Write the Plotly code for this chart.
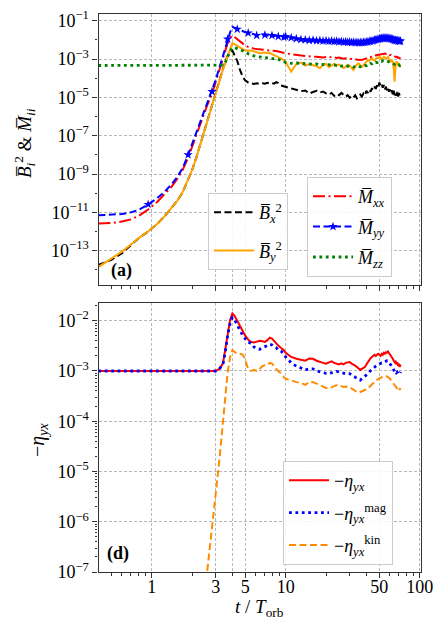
import plotly.graph_objects as go

# ---------------- data ----------------
T = [0.4, 0.5, 0.6, 0.7, 0.8,
     0.94, 1.1, 1.25, 1.4, 1.55,
     1.7, 1.87, 2.0, 2.15, 2.3,
     2.45, 2.6, 2.82, 3.0, 3.2,
     3.4, 3.55, 3.69, 3.85, 4.0,
     4.15, 4.35, 4.55, 4.8, 5.0,
     5.25, 5.5, 5.8, 6.07, 6.4,
     6.7, 7.0, 7.3, 7.6, 7.9,
     8.2, 8.5, 8.8, 9.2, 9.7,
     10, 11, 12, 13, 14,
     15, 16, 17, 18, 19,
     20, 21, 22, 23, 24,
     25, 26, 27, 28, 29,
     30, 31, 32, 33, 34,
     35, 36, 37, 38, 39,
     40, 41, 42, 43, 44,
     45, 46, 47, 48, 49,
     50, 51, 52, 53, 54,
     55, 56, 57, 58, 59,
     60, 61, 62, 63, 64,
     65, 66, 67, 68, 69,
     70, 71, 72]

Bx2 = [1.8e-14, 3.3e-14, 7.5e-14, 2.0e-13, 4.5e-13,
       1.0e-12, 2.5e-12, 6.3e-12, 1.6e-11, 4.0e-11,
       1.1e-10, 5.0e-10, 1.6e-9, 7.0e-9, 3.5e-8,
       1.6e-7, 6.0e-7, 4.0e-6, 1.6e-5, 7.5e-5,
       3.0e-4, 7.5e-4, 1.5e-3, 2.4e-3, 2.8e-3,
       1.6e-3, 8.0e-4, 2.8e-4, 1.1e-4, 7.5e-5,
       6.0e-5, 5.5e-5, 5.0e-5, 5.5e-5, 5.0e-5,
       5.5e-5, 5.2e-5, 5.8e-5, 5.3e-5, 5.6e-5,
       5.2e-5, 6.2e-5, 5.5e-5, 4.2e-5, 3.8e-5,
       3.5e-5, 3.0e-5, 2.6e-5, 2.1e-5, 2.3e-5,
       1.6e-5, 1.9e-5, 2.2e-5, 1.8e-5, 2.0e-5,
       1.6e-5, 1.4e-5, 1.7e-5, 1.2e-5, 1.5e-5,
       1.3e-5, 1.7e-5, 1.4e-5, 1.1e-5, 1.3e-5,
       9.5e-6, 1.2e-5, 1.0e-5, 1.3e-5, 9.0e-6,
       1.1e-5, 1.4e-5, 1.1e-5, 1.6e-5, 1.3e-5,
       2.2e-5, 1.7e-5, 2.6e-5, 2.0e-5, 3.0e-5,
       2.4e-5, 3.6e-5, 2.8e-5, 4.2e-5, 3.2e-5,
       6.0e-5, 4.0e-5, 5.0e-5, 3.2e-5, 4.4e-5,
       2.6e-5, 3.6e-5, 2.2e-5, 3.0e-5, 2.0e-5,
       2.6e-5, 1.6e-5, 2.4e-5, 1.4e-5, 2.2e-5,
       1.3e-5, 2.0e-5, 1.2e-5, 1.9e-5, 1.1e-5,
       1.7e-5, 1.2e-5, 1.5e-5]

By2 = [1.4e-14, 3.8e-14, 9.0e-14, 2.1e-13, 4.5e-13,
       1.0e-12, 2.5e-12, 6.3e-12, 1.6e-11, 4.0e-11,
       1.1e-10, 5.0e-10, 1.6e-9, 7.0e-9, 3.5e-8,
       1.5e-7, 5.5e-7, 3.8e-6, 1.5e-5, 7.0e-5,
       2.8e-4, 7.0e-4, 1.4e-3, 3.5e-3, 6.8e-3,
       6.0e-3, 4.8e-3, 3.8e-3, 3.2e-3, 2.9e-3,
       2.7e-3, 2.8e-3, 2.6e-3, 2.3e-3, 2.0e-3,
       2.1e-3, 2.2e-3, 2.0e-3, 2.1e-3, 1.8e-3,
       1.6e-3, 1.5e-3, 1.3e-3, 1.1e-3, 8.5e-4,
       7.0e-4, 2.2e-4, 5.5e-4, 6.5e-4, 4.5e-4,
       5.5e-4, 5.0e-4, 4.2e-4, 3.3e-4, 4.8e-4,
       5.5e-4, 3.8e-4, 4.5e-4, 5.5e-4, 4.8e-4,
       5.2e-4, 4.2e-4, 3.4e-4, 4.0e-4, 5.0e-4,
       4.6e-4, 3.5e-4, 2.7e-4, 3.8e-4, 5.2e-4,
       6.0e-4, 4.8e-4, 4.0e-4, 4.5e-4, 6.0e-4,
       7.5e-4, 9.0e-4, 8.0e-4, 1.0e-3, 1.1e-3,
       9.0e-4, 8.5e-4, 1.0e-3, 1.2e-3, 1.1e-3,
       1.3e-3, 1.2e-3, 1.0e-3, 1.1e-3, 1.3e-3,
       1.2e-3, 1.05e-3, 1.15e-3, 1.3e-3, 1.0e-3,
       9.0e-4, 7.5e-4, 8.5e-4, 7.0e-4, 3.0e-4,
       6.6e-5, 4.0e-4, 7.5e-4, 6.5e-4, 5.0e-4,
       5.5e-4, 4.0e-4, 4.5e-4]

Mxx = [2.6e-12, 2.8e-12, 3.3e-12, 4.3e-12, 6.5e-12,
       1.4e-11, 3.5e-11, 8.5e-11, 2.1e-10, 5.5e-10,
       1.6e-9, 7.0e-9, 2.6e-8, 1.1e-7, 4.0e-7,
       1.3e-6, 4.0e-6, 1.5e-5, 6.0e-5, 2.6e-4,
       1.1e-3, 3.2e-3, 7.0e-3, 1.3e-2, 1.7e-2,
       1.4e-2, 1.05e-2, 8.0e-3, 6.0e-3, 5.0e-3,
       4.3e-3, 3.8e-3, 3.5e-3, 3.3e-3, 3.1e-3,
       3.0e-3, 3.0e-3, 2.9e-3, 2.8e-3, 2.8e-3,
       2.7e-3, 2.6e-3, 2.5e-3, 2.3e-3, 2.1e-3,
       2.0e-3, 1.8e-3, 1.65e-3, 1.55e-3, 1.45e-3,
       1.35e-3, 1.3e-3, 1.32e-3, 1.25e-3, 1.2e-3,
       1.28e-3, 1.2e-3, 1.3e-3, 1.22e-3, 1.15e-3,
       1.2e-3, 1.1e-3, 1.05e-3, 1.1e-3, 1.0e-3,
       9.8e-4, 1.02e-3, 9.5e-4, 9.8e-4, 9.2e-4,
       9.0e-4, 9.3e-4, 9.0e-4, 9.6e-4, 1.0e-3,
       1.1e-3, 1.15e-3, 1.3e-3, 1.25e-3, 1.4e-3,
       1.35e-3, 1.5e-3, 1.55e-3, 1.65e-3, 1.6e-3,
       1.8e-3, 1.75e-3, 1.9e-3, 1.8e-3, 1.85e-3,
       1.95e-3, 1.85e-3, 1.9e-3, 1.7e-3, 1.8e-3,
       1.6e-3, 1.65e-3, 1.5e-3, 1.55e-3, 1.45e-3,
       1.35e-3, 1.4e-3, 1.25e-3, 1.3e-3, 1.15e-3,
       1.2e-3, 1.1e-3, 1.05e-3]

Myy = [7.0e-12, 7.4e-12, 8.2e-12, 1.0e-11, 1.35e-11,
       2.6e-11, 5.5e-11, 1.2e-10, 2.8e-10, 7.0e-10,
       2.0e-9, 1.0e-8, 3.5e-8, 1.5e-7, 5.5e-7,
       1.8e-6, 5.5e-6, 2.0e-5, 8.0e-5, 3.5e-4,
       1.5e-3, 4.5e-3, 1.1e-2, 2.5e-2, 4.8e-2,
       4.3e-2, 3.6e-2, 3.2e-2, 2.8e-2, 2.5e-2,
       2.3e-2, 2.2e-2, 2.0e-2, 1.7e-2, 1.8e-2,
       1.9e-2, 1.8e-2, 1.7e-2, 1.8e-2, 1.7e-2,
       1.6e-2, 1.7e-2, 1.5e-2, 1.6e-2, 1.4e-2,
       1.5e-2, 1.3e-2, 1.15e-2, 1.05e-2, 1.0e-2,
       9.5e-3, 9.8e-3, 9.0e-3, 9.3e-3, 8.8e-3,
       9.0e-3, 8.5e-3, 8.8e-3, 8.3e-3, 8.6e-3,
       8.0e-3, 8.3e-3, 7.7e-3, 8.0e-3, 7.5e-3,
       7.8e-3, 7.3e-3, 7.6e-3, 7.1e-3, 7.4e-3,
       7.0e-3, 7.3e-3, 7.1e-3, 7.5e-3, 7.3e-3,
       7.9e-3, 7.8e-3, 8.5e-3, 8.3e-3, 9.1e-3,
       8.9e-3, 9.7e-3, 1.0e-2, 1.08e-2, 1.05e-2,
       1.15e-2, 1.12e-2, 1.22e-2, 1.18e-2, 1.28e-2,
       1.22e-2, 1.3e-2, 1.2e-2, 1.25e-2, 1.15e-2,
       1.2e-2, 1.1e-2, 1.15e-2, 1.05e-2, 1.0e-2,
       9.4e-3, 9.8e-3, 9.0e-3, 9.4e-3, 8.6e-3,
       9.0e-3, 8.4e-3, 8.8e-3]

Mzz = [4.6e-4, 4.6e-4, 4.6e-4, 4.6e-4, 4.6e-4,
       4.6e-4, 4.6e-4, 4.6e-4, 4.6e-4, 4.6e-4,
       4.6e-4, 4.6e-4, 4.6e-4, 4.6e-4, 4.6e-4,
       4.6e-4, 4.6e-4, 4.6e-4, 4.6e-4, 4.6e-4,
       4.8e-4, 7.0e-4, 1.4e-3, 2.6e-3, 3.9e-3,
       3.9e-3, 3.5e-3, 3.1e-3, 2.7e-3, 2.4e-3,
       1.9e-3, 1.6e-3, 1.45e-3, 1.35e-3, 1.3e-3,
       1.3e-3, 1.25e-3, 1.2e-3, 1.15e-3, 1.1e-3,
       1.05e-3, 1.0e-3, 9.5e-4, 8.8e-4, 7.5e-4,
       6.5e-4, 6.0e-4, 6.2e-4, 6.0e-4, 5.5e-4,
       5.8e-4, 5.3e-4, 5.6e-4, 5.0e-4, 5.3e-4,
       4.8e-4, 5.1e-4, 4.6e-4, 4.9e-4, 4.5e-4,
       4.7e-4, 4.3e-4, 4.5e-4, 4.1e-4, 4.3e-4,
       4.0e-4, 4.2e-4, 3.8e-4, 4.0e-4, 3.8e-4,
       4.1e-4, 3.9e-4, 4.3e-4, 4.1e-4, 4.6e-4,
       4.5e-4, 5.2e-4, 5.0e-4, 5.8e-4, 5.6e-4,
       6.3e-4, 6.0e-4, 6.8e-4, 6.5e-4, 7.2e-4,
       7.0e-4, 7.8e-4, 7.5e-4, 8.2e-4, 8.0e-4,
       8.6e-4, 8.2e-4, 8.5e-4, 7.8e-4, 7.5e-4,
       7.0e-4, 6.8e-4, 6.2e-4, 6.0e-4, 5.6e-4,
       5.2e-4, 5.5e-4, 4.9e-4, 5.2e-4, 4.8e-4,
       5.0e-4, 4.6e-4, 4.8e-4]

eta_tot = [1.0e-3, 1.0e-3, 1.0e-3, 1.0e-3, 1.0e-3,
           1.0e-3, 1.0e-3, 1.0e-3, 1.0e-3, 1.0e-3,
           1.0e-3, 1.0e-3, 1.0e-3, 1.0e-3, 1.0e-3,
           1.0e-3, 1.0e-3, 1.0e-3, 1.0e-3, 1.1e-3,
           1.4e-3, 2.8e-3, 5.8e-3, 1.05e-2, 1.4e-2,
           1.25e-2, 1.0e-2, 7.8e-3, 6.0e-3, 5.0e-3,
           4.2e-3, 3.8e-3, 3.7e-3, 3.9e-3, 4.0e-3,
           3.9e-3, 3.8e-3, 4.1e-3, 4.6e-3, 4.4e-3,
           3.9e-3, 3.5e-3, 3.2e-3, 2.9e-3, 2.6e-3,
           2.3e-3, 1.9e-3, 1.75e-3, 1.7e-3, 1.6e-3,
           1.78e-3, 1.75e-3, 1.6e-3, 1.5e-3, 1.45e-3,
           1.4e-3, 1.5e-3, 1.55e-3, 1.45e-3, 1.4e-3,
           1.35e-3, 1.42e-3, 1.35e-3, 1.45e-3, 1.5e-3,
           1.5e-3, 1.4e-3, 1.35e-3, 1.28e-3, 1.2e-3,
           1.1e-3, 1.05e-3, 1.1e-3, 1.15e-3, 1.2e-3,
           1.35e-3, 1.5e-3, 1.7e-3, 1.8e-3, 1.9e-3,
           2.0e-3, 2.1e-3, 2.0e-3, 2.1e-3, 2.2e-3,
           2.1e-3, 2.0e-3, 2.2e-3, 2.1e-3, 2.3e-3,
           2.2e-3, 2.35e-3, 2.3e-3, 2.45e-3, 2.3e-3,
           2.2e-3, 2.0e-3, 1.9e-3, 1.75e-3, 1.6e-3,
           1.5e-3, 1.6e-3, 1.35e-3, 1.5e-3, 1.25e-3,
           1.4e-3, 1.2e-3, 1.35e-3]

eta_mag = [1.0e-3, 1.0e-3, 1.0e-3, 1.0e-3, 1.0e-3,
           1.0e-3, 1.0e-3, 1.0e-3, 1.0e-3, 1.0e-3,
           1.0e-3, 1.0e-3, 1.0e-3, 1.0e-3, 1.0e-3,
           1.0e-3, 1.0e-3, 1.0e-3, 1.0e-3, 1.1e-3,
           1.35e-3, 2.5e-3, 5.2e-3, 9.0e-3, 1.15e-2,
           1.05e-2, 8.5e-3, 6.5e-3, 5.0e-3, 4.3e-3,
           3.7e-3, 3.6e-3, 3.0e-3, 2.8e-3, 2.7e-3,
           2.9e-3, 3.0e-3, 3.2e-3, 3.4e-3, 3.3e-3,
           3.0e-3, 2.9e-3, 2.6e-3, 2.5e-3, 2.2e-3,
           1.9e-3, 1.45e-3, 1.25e-3, 1.15e-3, 1.05e-3,
           1.1e-3, 1.1e-3, 1.0e-3, 9.6e-4, 9.2e-4,
           9.0e-4, 8.9e-4, 9.2e-4, 9.6e-4, 9.8e-4,
           9.6e-4, 9.2e-4, 9.0e-4, 8.8e-4, 8.9e-4,
           8.9e-4, 8.4e-4, 7.9e-4, 7.7e-4, 7.2e-4,
           6.8e-4, 6.6e-4, 7.0e-4, 7.4e-4, 7.7e-4,
           8.2e-4, 8.8e-4, 9.6e-4, 1.02e-3, 1.1e-3,
           1.15e-3, 1.2e-3, 1.25e-3, 1.3e-3, 1.35e-3,
           1.4e-3, 1.4e-3, 1.45e-3, 1.45e-3, 1.5e-3,
           1.5e-3, 1.55e-3, 1.6e-3, 1.6e-3, 1.5e-3,
           1.4e-3, 1.3e-3, 1.27e-3, 1.15e-3, 1.05e-3,
           9.6e-4, 1.0e-3, 9.2e-4, 9.5e-4, 8.9e-4,
           9.2e-4, 8.8e-4, 9.6e-4]

eta_kin = [None, None, None, None, None,
           None, None, None, None, None,
           None, None, None, None, None,
           2.5e-8, 1.0e-7, 7.0e-7, 3.2e-6, 1.7e-5,
           9.5e-5, 3.1e-4, 9.5e-4, 1.9e-3, 2.6e-3,
           2.4e-3, 2.2e-3, 2.2e-3, 2.1e-3, 1.6e-3,
           1.1e-3, 1.0e-3, 1.05e-3, 1.0e-3, 1.1e-3,
           1.25e-3, 1.3e-3, 1.3e-3, 1.45e-3, 1.4e-3,
           1.2e-3, 1.1e-3, 1.0e-3, 9.0e-4, 7.5e-4,
           7.0e-4, 6.5e-4, 6.0e-4, 5.8e-4, 5.3e-4,
           6.1e-4, 6.0e-4, 5.6e-4, 5.2e-4, 4.8e-4,
           4.6e-4, 4.5e-4, 4.8e-4, 5.0e-4, 5.2e-4,
           5.2e-4, 5.0e-4, 4.8e-4, 4.9e-4, 4.8e-4,
           4.8e-4, 4.5e-4, 4.2e-4, 4.0e-4, 3.8e-4,
           3.7e-4, 3.8e-4, 3.9e-4, 4.0e-4, 4.1e-4,
           4.3e-4, 4.5e-4, 4.8e-4, 5.2e-4, 5.6e-4,
           5.9e-4, 6.1e-4, 6.4e-4, 6.7e-4, 7.0e-4,
           7.1e-4, 7.3e-4, 7.5e-4, 7.7e-4, 7.9e-4,
           7.9e-4, 8.0e-4, 7.8e-4, 7.6e-4, 7.2e-4,
           7.0e-4, 6.6e-4, 6.2e-4, 5.8e-4, 5.5e-4,
           5.2e-4, 4.8e-4, 4.5e-4, 4.3e-4, 4.1e-4,
           4.0e-4, 4.5e-4, 4.2e-4]

# times at which the star markers of M_yy are drawn
STAR_T = [0.94, 1.87, 2.82, 3.69, 4.35, 5.25, 6.07, 7.0, 7.9, 8.8, 9.7] + list(range(10, 73))

X_TICKS = [1, 3, 4, 5, 10, 50, 100]
X_TICKTEXT = ["1", "3", "", "5", "10", "50", "100"]
Y1_EXP = [-13, -11, -9, -7, -5, -3, -1]
Y2_EXP = [-7, -6, -5, -4, -3, -2]

# ---------------- figure ----------------
FONT = "Liberation Serif"
XDOM = [98.5 / 433, 420.7 / 433]
Y1DOM = [(627 - 285) / 627, (627 - 14) / 627]
Y2DOM = [(627 - 572) / 627, (627 - 303) / 627]

fig = go.Figure()

def add(x, y, name, color, dash, width, row, legend, show=True):
    fig.add_trace(go.Scatter(
        x=x, y=y, name=name, mode="lines",
        line=dict(color=color, dash=dash, width=width),
        showlegend=show, legend=legend, legendgroup=name,
        xaxis="x" if row == 1 else "x2", yaxis="y" if row == 1 else "y2",
        hoverinfo="skip"))

# top panel
add(T, Bx2, "<i>B̅</i><sub><i>x</i></sub><sup>2</sup>", "black", "7px,3.5px", 2, 1, "legend")
add(T, By2, "<i>B̅</i><sub><i>y</i></sub><sup>2</sup>", "#FFA500", "solid", 2, 1, "legend")
add(T, Mxx, "<i>M̅</i><sub><i>xx</i></sub>", "red", "12px,3.5px,2px,3.5px", 2, 1, "legend2")
add(T, Myy, "myy_line", "blue", "7px,3.5px", 2, 1, "legend2", show=False)
star_idx = [i for i, t in enumerate(T) if t in STAR_T]
fig.add_trace(go.Scatter(
    x=[T[i] for i in star_idx], y=[Myy[i] for i in star_idx], mode="markers",
    marker=dict(symbol="star", size=7, color="blue", line=dict(width=0)),
    showlegend=False, xaxis="x", yaxis="y", hoverinfo="skip"))
fig.add_trace(go.Scatter(
    x=[None], y=[None], mode="lines+markers", name="<i>M̅</i><sub><i>yy</i></sub>",
    line=dict(color="blue", dash="7px,3.5px", width=2),
    marker=dict(symbol="star", size=7, color="blue"),
    legend="legend2", legendgroup="myy", xaxis="x", yaxis="y"))
add(T, Mzz, "<i>M̅</i><sub><i>zz</i></sub>", "green", "2.8px,3.6px", 2.8, 1, "legend2")

# bottom panel
add(T, eta_tot, "−<i>η</i><sub><i>yx</i></sub>", "red", "solid", 2, 2, "legend3")
add(T, eta_mag, "−<i>η</i><sub><i>yx</i></sub><sup>mag</sup>", "blue", "2.8px,3.6px", 2.8, 2, "legend3")
add(T, eta_kin, "−<i>η</i><sub><i>yx</i></sub><sup>kin</sup>", "#FF8C00", "7px,3.5px", 2, 2, "legend3")

GRID = dict(showgrid=True, gridcolor="#b8b8b8", gridwidth=1, griddash="3px,2px",
            showline=True, linecolor="#333333", linewidth=1.2, mirror=True,
            ticks="outside", ticklen=5, tickwidth=1, tickcolor="#333333",
            tickfont=dict(family=FONT, size=18, color="black"), zeroline=False,
            automargin=False, ticklabeloverflow="allow")

x_minor = [v * m for v in (0.1, 1, 10) for m in range(2, 10) if 0.39 < v * m < 101]

def xaxis(dom_anchor, labels):
    d = dict(GRID)
    d.update(type="log", domain=XDOM, anchor=dom_anchor,
             range=[-0.397, 2.0075], tickmode="array", tickvals=X_TICKS,
             ticktext=X_TICKTEXT, showticklabels=labels, ticklabelstandoff=-7,
             minor=dict(tickmode="array", tickvals=x_minor, ticks="outside",
                        ticklen=2.5, tickcolor="#333333", showgrid=False))
    return d

def yaxis(dom, exps, rng, anchor, minor_vals):
    d = dict(GRID)
    d.update(type="log", domain=dom, anchor=anchor, range=rng,
             tickmode="array", tickvals=[10.0 ** e for e in exps],
             ticktext=["10<sup>−%d</sup>" % (-e) for e in exps],
             minor=dict(tickmode="array", tickvals=minor_vals, ticks="outside",
                        ticklen=2.5, tickcolor="#333333", showgrid=False))
    return d

y1_minor = [10.0 ** e for e in range(-14, 0, 2)]
y2_minor = [m * 10.0 ** e for e in range(-7, -1) for m in range(2, 10)]

LEG = dict(font=dict(family=FONT, size=18, color="black"), bgcolor="rgba(255,255,255,0.85)",
           bordercolor="#cccccc", borderwidth=1, xanchor="left", yanchor="top",
           traceorder="grouped", itemwidth=40)

ANN = dict(xref="paper", yref="paper", showarrow=False, xanchor="center", yanchor="middle")

fig.update_layout(
    width=433, height=627, margin=dict(l=0, r=0, t=0, b=0, autoexpand=False),
    paper_bgcolor="white", plot_bgcolor="white",
    font=dict(family=FONT, size=16, color="black"),
    xaxis=xaxis("y", False),
    yaxis=yaxis(Y1DOM, Y1_EXP, [-14.79, -0.65], "x", y1_minor),
    xaxis2=xaxis("y2", True),
    yaxis2=yaxis(Y2DOM, Y2_EXP, [-7.0, -1.647], "x2", y2_minor),
    legend=dict(LEG, x=208 / 433, y=(627 - 193) / 627, tracegroupgap=12),
    legend2=dict(LEG, x=307 / 433, y=(627 - 177) / 627, tracegroupgap=4),
    legend3=dict(LEG, x=283 / 433, y=(627 - 461) / 627, tracegroupgap=6),
    annotations=[
        dict(ANN, text="<i>B̅</i><sub><i>i</i></sub><sup>2</sup> & <i>M̅</i><sub><i>ii</i></sub>",
             x=24 / 433, y=(627 - 143) / 627, textangle=-90, font=dict(family=FONT, size=19)),
        dict(ANN, text="−<i>η</i><sub><i>yx</i></sub>",
             x=38 / 433, y=(627 - 440) / 627, textangle=-90, font=dict(family=FONT, size=20)),
        dict(ANN, text="<i>t</i> / <i>T</i><sub>orb</sub>",
             x=259.6 / 433, y=(627 - 608) / 627, font=dict(family=FONT, size=19)),
        dict(ANN, text="<b>(a)</b>", x=121 / 433, y=(627 - 270) / 627, font=dict(family=FONT, size=18)),
        dict(ANN, text="<b>(d)</b>", x=118 / 433, y=(627 - 553) / 627, font=dict(family=FONT, size=18)),
    ],
)

fig.write_html("out.html")
